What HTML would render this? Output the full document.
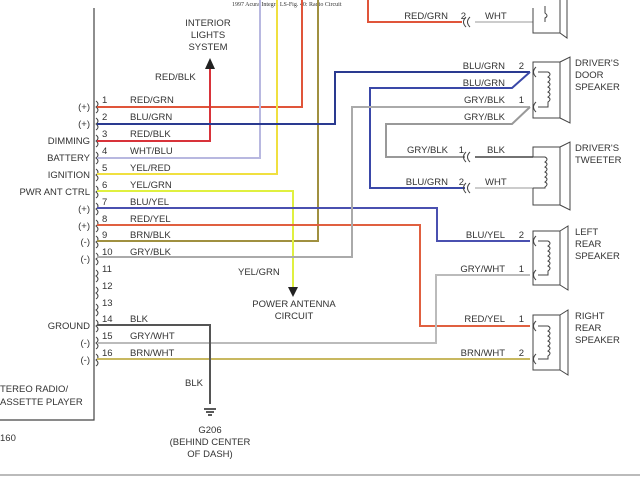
<!DOCTYPE html>
<html><head><style>
body{margin:0;background:#fff}
svg text{font-family:"Liberation Sans",sans-serif;font-size:9.5px;fill:#333}
</style></head><body>
<svg width="640" height="480" xmlns="http://www.w3.org/2000/svg">
<rect width="640" height="480" fill="#fff"/>
<text x="232" y="6" style="font-family:'Liberation Serif',serif;font-size:6px">1997 Acura Integra LS-Fig. 40: Radio Circuit</text>
<polyline points="94,8 94,420 0,420" fill="none" stroke="#444" stroke-width="1.2"/>
<line x1="0" y1="475" x2="640" y2="475" stroke="#bbb" stroke-width="2"/>
<g fill="none" stroke="#444" stroke-width="1">
<path d="M96,101 q4,3 0,6 q4,3 0,6"/><path d="M96,118 q4,3 0,6 q4,3 0,6"/><path d="M96,135 q4,3 0,6 q4,3 0,6"/><path d="M96,152 q4,3 0,6 q4,3 0,6"/><path d="M96,169 q4,3 0,6 q4,3 0,6"/><path d="M96,186 q4,3 0,6 q4,3 0,6"/><path d="M96,203 q4,3 0,6 q4,3 0,6"/><path d="M96,220 q4,3 0,6 q4,3 0,6"/><path d="M96,236 q4,3 0,6 q4,3 0,6"/><path d="M96,253 q4,3 0,6 q4,3 0,6"/><path d="M96,270 q4,3 0,6 q4,3 0,6"/><path d="M96,287 q4,3 0,6 q4,3 0,6"/><path d="M96,304 q4,3 0,6 q4,3 0,6"/><path d="M96,320 q4,3 0,6 q4,3 0,6"/><path d="M96,337 q4,3 0,6 q4,3 0,6"/><path d="M96,354 q4,3 0,6 q4,3 0,6"/>
</g>
<g text-anchor="end">
<text x="90" y="110">(+)</text><text x="90" y="127">(+)</text><text x="90" y="144">DIMMING</text><text x="90" y="161">BATTERY</text><text x="90" y="178">IGNITION</text><text x="90" y="195">PWR ANT CTRL</text><text x="90" y="212">(+)</text><text x="90" y="229">(+)</text><text x="90" y="245">(-)</text><text x="90" y="262">(-)</text><text x="90" y="329">GROUND</text><text x="90" y="346">(-)</text><text x="90" y="363">(-)</text>
</g>
<g>
<text x="102" y="103">1</text><text x="102" y="120">2</text><text x="102" y="137">3</text><text x="102" y="154">4</text><text x="102" y="171">5</text><text x="102" y="188">6</text><text x="102" y="205">7</text><text x="102" y="222">8</text><text x="102" y="238">9</text><text x="102" y="255">10</text><text x="102" y="272">11</text><text x="102" y="289">12</text><text x="102" y="306">13</text><text x="102" y="322">14</text><text x="102" y="339">15</text><text x="102" y="356">16</text>
<text x="130" y="103">RED/GRN</text><text x="130" y="120">BLU/GRN</text><text x="130" y="137">RED/BLK</text><text x="130" y="154">WHT/BLU</text><text x="130" y="171">YEL/RED</text><text x="130" y="188">YEL/GRN</text><text x="130" y="205">BLU/YEL</text><text x="130" y="222">RED/YEL</text><text x="130" y="238">BRN/BLK</text><text x="130" y="255">GRY/BLK</text><text x="130" y="322">BLK</text><text x="130" y="339">GRY/WHT</text><text x="130" y="356">BRN/WHT</text>
</g>
<text x="0" y="392">TEREO RADIO/</text><text x="0" y="405">ASSETTE PLAYER</text>
<text x="0" y="441">160</text>
<g fill="none" stroke-width="2">
<polyline points="97,107 302,107 302,0" stroke="#e0553a"/>
<polyline points="97,141 210,141 210,68" stroke="#d8333a"/>
<polyline points="97,158 260,158 260,0" stroke="#b8b8e0"/>
<polyline points="97,174 277,174 277,0" stroke="#f0e040"/>
<polyline points="97,241 318,241 318,0" stroke="#a09040"/>
<polyline points="97,191 293,191 293,287" stroke="#e0f040"/>
<polyline points="97,124 335,124 335,72 530,72" stroke="#2a3a90"/>
<polyline points="530,72 512,88 370,88 370,188 465,188" stroke="#3a48a8"/>
<polyline points="97,208 437,208 437,241 530,241" stroke="#4a50b0"/>
<polyline points="97,225 420,225 420,326 530,326" stroke="#e06040"/>
<polyline points="97,257 352,257 352,107 530,107" stroke="#aaa"/>
<polyline points="530,107 512,124 386,124 386,157 465,157" stroke="#999"/>
<polyline points="97,343 436,343 436,275 530,275" stroke="#bbb"/>
<polyline points="97,359 530,359" stroke="#c8b860"/>
<polyline points="97,325 210,325 210,404" stroke="#555"/>
<polyline points="368,0 368,22 462,22" stroke="#e0553a"/>
<polyline points="475,22 533,22" stroke="#999" stroke-width="1"/>
<polyline points="475,157 533,157" stroke="#444" stroke-width="1.5"/>
<polyline points="475,188 533,188" stroke="#999" stroke-width="1"/>
</g>
<g fill="none" stroke="#444" stroke-width="1">
<path d="M466,17 q-5,5 0,10 M470,17 q-5,5 0,10"/>
<path d="M466,152 q-5,5 0,10 M470,152 q-5,5 0,10"/>
<path d="M466,183 q-5,5 0,10 M470,183 q-5,5 0,10"/>
<path d="M533,8 V33 H560 M567,0 V38 L560,33 V0"/>
<path d="M545,22 V18 q4,-2 0,-5 V6"/>
<rect x="533" y="62" width="27" height="56"/><path d="M560,62 L570,57 V123 L560,118"/>
<path d="M536,67 q-5,5 0,10 M536,102 q-5,5 0,10"/>
<path d="M538,72 H548 q4,2 0,5 q4,2 0,5 q4,2 0,5 q4,2 0,5 q4,2 0,5 q4,2 0,5 V107 H538"/>
<path d="M533,157 V147 H560 V205 H533 V188"/><path d="M560,147 L570,142 V210 L560,205"/>
<path d="M533,157 H545 q4,2 0,5 q4,2 0,5 q4,2 0,5 q4,2 0,5 q4,2 0,5 q4,2 0,5 V188 H533"/>
<rect x="533" y="231" width="27" height="54"/><path d="M560,231 L568,226 V290 L560,285"/>
<path d="M536,236 q-5,5 0,10 M536,270 q-5,5 0,10"/>
<path d="M538,241 H548 q4,2 0,5 q4,2 0,5 q4,2 0,5 q4,2 0,5 q4,2 0,5 q4,2 0,5 V275 H538"/>
<rect x="533" y="315" width="27" height="55"/><path d="M560,315 L568,310 V375 L560,370"/>
<path d="M536,321 q-5,5 0,10 M536,354 q-5,5 0,10"/>
<path d="M538,326 H548 q4,2 0,5 q4,2 0,5 q4,2 0,5 q4,2 0,5 q4,2 0,5 q4,2 0,5 V359 H538"/>
</g>
<g stroke="#222" stroke-width="1.5"><line x1="204" y1="409" x2="216" y2="409"/><line x1="206" y1="412" x2="214" y2="412"/><line x1="208" y1="415" x2="212" y2="415"/></g>
<polygon points="205,69 215,69 210,58" fill="#222"/>
<polygon points="288,287 298,287 293,297" fill="#222"/>
<text x="155" y="80">RED/BLK</text>
<text x="238" y="275">YEL/GRN</text>
<text x="185" y="386">BLK</text>
<g text-anchor="middle">
<text x="208" y="26">INTERIOR</text><text x="208" y="38">LIGHTS</text><text x="208" y="50">SYSTEM</text>
<text x="294" y="307">POWER ANTENNA</text><text x="294" y="319">CIRCUIT</text>
<text x="210" y="433">G206</text><text x="210" y="445">(BEHIND CENTER</text><text x="210" y="457">OF DASH)</text>
</g>
<g text-anchor="end">
<text x="448" y="19">RED/GRN</text><text x="466" y="19">2</text>
<text x="505" y="69">BLU/GRN</text><text x="524" y="69">2</text>
<text x="505" y="86">BLU/GRN</text>
<text x="505" y="103">GRY/BLK</text><text x="524" y="103">1</text>
<text x="505" y="120">GRY/BLK</text>
<text x="448" y="153">GRY/BLK</text><text x="464" y="153">1</text>
<text x="448" y="185">BLU/GRN</text><text x="464" y="185">2</text>
<text x="505" y="238">BLU/YEL</text><text x="524" y="238">2</text>
<text x="505" y="272">GRY/WHT</text><text x="524" y="272">1</text>
<text x="505" y="322">RED/YEL</text><text x="524" y="322">1</text>
<text x="505" y="356">BRN/WHT</text><text x="524" y="356">2</text>
</g>
<text x="485" y="19">WHT</text><text x="487" y="153">BLK</text><text x="485" y="185">WHT</text>
<text x="575" y="66">DRIVER'S</text><text x="575" y="78">DOOR</text><text x="575" y="90">SPEAKER</text>
<text x="575" y="151">DRIVER'S</text><text x="575" y="163">TWEETER</text>
<text x="575" y="235">LEFT</text><text x="575" y="247">REAR</text><text x="575" y="259">SPEAKER</text>
<text x="575" y="319">RIGHT</text><text x="575" y="331">REAR</text><text x="575" y="343">SPEAKER</text>
</svg>
</body></html>
